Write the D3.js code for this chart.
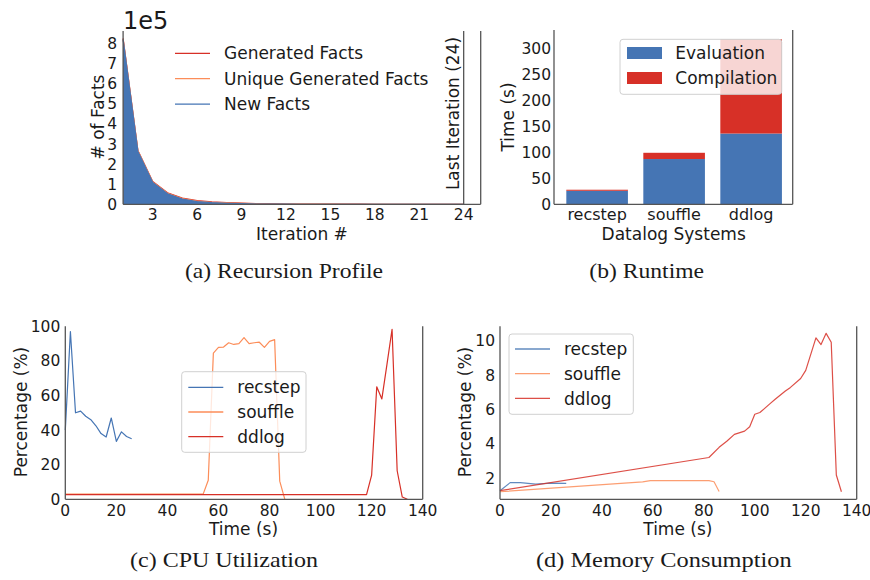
<!DOCTYPE html>
<html><head><meta charset="utf-8">
<script src="https://cdn.jsdelivr.net/npm/d3@7"></script>
<style>
body{margin:0;background:#fff;}
svg{display:block;}
text{font-family:"DejaVu Sans",sans-serif;fill:#1a1a1a;}
.cap{font-family:"Liberation Serif","DejaVu Serif",serif;}
</style></head>
<body><svg id="c" width="870" height="580"></svg>
<script>
// ---------- DATA ----------
// (a) Recursion profile, units of 1e5 facts, iterations 1..24
const iterations = d3.range(1, 25);
const generatedFacts = [8.25, 2.68, 1.13, 0.57, 0.31, 0.18, 0.12, 0.09, 0.06, 0.035, 0.022, 0.014, 0.01, 0.008, 0.006, 0.005, 0.004, 0.003, 0.003, 0.002, 0.002, 0.002, 0.001, 0.001];
const uniqueFacts    = [8.23, 2.66, 1.11, 0.55, 0.29, 0.16, 0.10, 0.07, 0.045, 0.025, 0.015, 0.01, 0.007, 0.005, 0.004, 0.003, 0.002, 0.002, 0.001, 0.001, 0.001, 0.001, 0.001, 0.001];
const newFacts       = [8.20, 2.63, 1.08, 0.52, 0.26, 0.13, 0.08, 0.05, 0.03, 0.015, 0.008, 0.005, 0.003, 0.002, 0.001, 0.001, 0, 0, 0, 0, 0, 0, 0, 0];
const lastIteration = 24;
const profileTicksX = [3, 6, 9, 12, 15, 18, 21, 24];
const profileTicksY = [0, 1, 2, 3, 4, 5, 6, 7, 8];

// (b) Runtime
const systems = ["recstep", "souffle", "ddlog"];
const evaluationTime = [26, 87, 136];
const compilationTime = [2, 12, 181];
const runtimeTicksY = [0, 50, 100, 150, 200, 250, 300];

// (c) CPU utilization (%) : [time s, value]
const cpuRecstep = [[0,40],[2,97],[4,50],[6,51],[8,48],[10,46],[12,42.5],[14,38],[16,36],[18,47],[20,33.5],[22,39],[24,36.3],[26,35]];
const cpuSouffle = [[0,3],[54,3],[56,11],[58,84.5],[60,87.8],[62,88],[64,90.5],[66,89.5],[68,90],[70,93.5],[72,90],[74,90.5],[76,90.8],[78,87.8],[80,91.3],[82,92.3],[84,10.5],[86,0]];
const cpuDdlog   = [[0,2.7],[118,2.7],[120,14],[122,65],[124,58],[126,78],[128,98.3],[130,16.5],[132,1.3],[134,0]];
const pctTicksX = [0, 20, 40, 60, 80, 100, 120, 140];
const cpuTicksY = [0, 20, 40, 60, 80, 100];

// (d) Memory consumption (%)
const memRecstep = [[0,1.28],[4,1.75],[8,1.75],[14,1.66],[20,1.72],[26,1.71]];
const memSouffle = [[0,1.22],[56,1.79],[59,1.86],[82,1.86],[84,1.8],[86,1.23]];
const memDdlog   = [[0,1.28],[82,3.21],[86,3.8],[89,4.15],[92,4.55],[96,4.74],[98,4.99],[100,5.72],[102,5.82],[106,6.34],[108,6.59],[112,7.07],[114,7.28],[118,7.8],[120,8.27],[124,10.16],[126,9.77],[128,10.42],[130,9.9],[132,2.19],[134,1.22]];
const memTicksY = [2, 4, 6, 8, 10];

const seriesNames = ["recstep", "souffle", "ddlog"];
const profileNames = ["Generated Facts", "Unique Generated Facts", "New Facts"];
const runtimeNames = ["Evaluation", "Compilation"];

// ---------- STYLE ----------
const BLUE = "#4575b4", ORANGE = "#fc8d59", RED = "#d73027";
const SPINE = "#555", TICK = 15.5, LAB = 17;

const svg = d3.select("#c");

function txt(g, x, y, s, size, anchor, extra) {
  const t = g.append("text").attr("x", x).attr("y", y).text(s)
    .attr("font-size", size).attr("text-anchor", anchor || "start");
  if (extra) extra(t);
  return t;
}
function vline(g, x, y1, y2) {
  g.append("line").attr("x1", x).attr("x2", x).attr("y1", y1).attr("y2", y2)
    .attr("stroke", SPINE).attr("stroke-width", 1.3);
}
function hline(g, y, x1, x2) {
  g.append("line").attr("x1", x1).attr("x2", x2).attr("y1", y).attr("y2", y)
    .attr("stroke", SPINE).attr("stroke-width", 1.3);
}
function yLabel(g, x, y, s) {
  g.append("text").attr("transform", `translate(${x},${y}) rotate(-90)`)
    .attr("text-anchor", "middle").attr("dy", "0.35em").attr("font-size", LAB).text(s);
}
function xTicks(g, scale, ticks, y, fmt) {
  ticks.forEach(t => txt(g, scale(t), y, fmt ? fmt(t) : t, TICK, "middle"));
}
function yTicks(g, scale, ticks, x) {
  ticks.forEach(t => txt(g, x, scale(t), t, TICK, "end", e => e.attr("dy", "0.36em")));
}
function legendBox(g, x1, y1, x2, y2) {
  g.append("rect").attr("x", x1).attr("y", y1).attr("width", x2 - x1).attr("height", y2 - y1)
    .attr("rx", 3).attr("fill", "#fff").attr("fill-opacity", 0.8)
    .attr("stroke", "#d0d0d0").attr("stroke-width", 1);
}

// ---------- (a) Recursion Profile ----------
{
  const g = svg.append("g");
  const x = d3.scaleLinear().domain([1, 25.15]).range([123.1, 480.7]);
  const y = d3.scaleLinear().domain([0, 8.62]).range([204.3, 31]);
  const series = [[generatedFacts, RED], [uniqueFacts, ORANGE], [newFacts, BLUE]];
  series.forEach(([vals, col]) => {
    const pts = iterations.map((it, i) => [it, vals[i]]);
    g.append("path").datum(pts)
      .attr("d", d3.area().x(d => x(d[0])).y0(y(0)).y1(d => y(d[1])))
      .attr("fill", col);
    g.append("path").datum(pts)
      .attr("d", d3.line().x(d => x(d[0])).y(d => y(d[1])))
      .attr("fill", "none").attr("stroke", col).attr("stroke-width", 1.2);
  });
  // last iteration marker
  vline(g, x(lastIteration), y.range()[1], y(0));
  g.append("text")
    .attr("transform", `translate(${x(lastIteration) - 4.5},113.5) rotate(-90)`)
    .attr("text-anchor", "middle").attr("font-size", LAB)
    .text(`Last Iteration (${lastIteration})`);
  // spines
  vline(g, x.range()[0], y.range()[1], y(0));
  vline(g, x.range()[1], y.range()[1], y(0));
  hline(g, y(0), x.range()[0], x.range()[1]);
  xTicks(g, x, profileTicksX, 220);
  yTicks(g, y, profileTicksY, 117);
  txt(g, 123, 28.5, "1e5", 24, "start");
  txt(g, 302, 239.5, "Iteration #", LAB, "middle");
  yLabel(g, 98, 117, "# of Facts");
  // legend (no frame)
  const cols = [RED, ORANGE, BLUE];
  profileNames.forEach((n, i) => {
    const yy = 53.3 + i * 25.4;
    g.append("line").attr("x1", 175).attr("x2", 210).attr("y1", yy).attr("y2", yy)
      .attr("stroke", cols[i]).attr("stroke-width", 1.3);
    txt(g, 224, yy, n, LAB, "start", e => e.attr("dy", "0.36em"));
  });
  txt(g, 284, 278.3, "(a) Recursion Profile", 21, "middle", e => e.attr("class", "cap")
    .attr("textLength", 198).attr("lengthAdjust", "spacingAndGlyphs"));
}

// ---------- (b) Runtime ----------
{
  const g = svg.append("g");
  const x = d3.scaleLinear().domain([-0.56, 2.54]).range([554, 792.7]);
  const y = d3.scaleLinear().domain([0, 335]).range([204.3, 30]);
  const bw = x(0.4) - x(-0.4);
  systems.forEach((s, i) => {
    g.append("rect").attr("x", x(i - 0.4)).attr("width", bw)
      .attr("y", y(evaluationTime[i])).attr("height", y(0) - y(evaluationTime[i])).attr("fill", BLUE);
    const top = evaluationTime[i] + compilationTime[i];
    g.append("rect").attr("x", x(i - 0.4)).attr("width", bw)
      .attr("y", y(top)).attr("height", y(evaluationTime[i]) - y(top)).attr("fill", RED);
  });
  vline(g, x.range()[0], y.range()[1], y(0));
  vline(g, x.range()[1], y.range()[1], y(0));
  hline(g, y(0), x.range()[0], x.range()[1]);
  systems.forEach((s, i) => txt(g, x(i), 220, s, TICK + 0.5, "middle"));
  yTicks(g, y, runtimeTicksY, 551);
  txt(g, 673.7, 239.5, "Datalog Systems", LAB, "middle");
  yLabel(g, 508, 117, "Time (s)");
  legendBox(g, 620, 39.3, 781.7, 94.3);
  const cols = [BLUE, RED];
  runtimeNames.forEach((n, i) => {
    const yy = 53 + i * 25;
    g.append("rect").attr("x", 627).attr("y", yy - 6).attr("width", 35).attr("height", 12).attr("fill", cols[i]);
    txt(g, 675.3, yy, n, LAB, "start", e => e.attr("dy", "0.36em"));
  });
  txt(g, 646.7, 278.3, "(b) Runtime", 21, "middle", e => e.attr("class", "cap")
    .attr("textLength", 114.7).attr("lengthAdjust", "spacingAndGlyphs"));
}

// ---------- line panels ----------
function linePanel(opts) {
  const g = svg.append("g");
  const x = d3.scaleLinear().domain([0, 140]).range(opts.xr);
  const y = d3.scaleLinear().domain(opts.yd).range([499.3, 326.3]);
  const line = d3.line().x(d => x(d[0])).y(d => y(d[1]));
  const cols = [BLUE, ORANGE, RED];
  opts.data.forEach((d, i) => {
    g.append("path").datum(d).attr("d", line).attr("fill", "none")
      .attr("stroke", cols[i]).attr("stroke-width", 1.2).attr("stroke-opacity", opts.op)
      .attr("stroke-linejoin", "round");
  });
  vline(g, x.range()[0], y.range()[1], y.range()[0]);
  vline(g, x.range()[1], y.range()[1], y.range()[0]);
  hline(g, y.range()[0], x.range()[0], x.range()[1]);
  xTicks(g, x, pctTicksX, 515.5);
  yTicks(g, y, opts.yt, x.range()[0] - 5);
  txt(g, (x.range()[0] + x.range()[1]) / 2 - 0.5, 535, "Time (s)", LAB, "middle");
  yLabel(g, opts.ylx, 412, "Percentage (%)");
  const L = opts.leg;
  legendBox(g, L.x1, L.y1, L.x2, L.y2);
  seriesNames.forEach((n, i) => {
    const yy = L.r0 + i * L.dr;
    g.append("line").attr("x1", L.lx).attr("x2", L.lx + 35).attr("y1", yy).attr("y2", yy)
      .attr("stroke", cols[i]).attr("stroke-width", 1.3).attr("stroke-opacity", opts.op);
    txt(g, L.tx, yy, n, LAB, "start", e => e.attr("dy", "0.36em"));
  });
  txt(g, opts.cx, 566.5, opts.cap, 21, "middle", e => e.attr("class", "cap")
    .attr("textLength", opts.cw).attr("lengthAdjust", "spacingAndGlyphs"));
}

linePanel({
  xr: [65.3, 422.7], yd: [0, 100], yt: cpuTicksY, op: 1,
  data: [cpuRecstep, cpuSouffle, cpuDdlog], ylx: 21,
  leg: {x1: 181.7, y1: 371.7, x2: 306, y2: 452.3, lx: 188.3, tx: 237.3, r0: 387.3, dr: 24.7},
  cap: "(c) CPU Utilization", cx: 224, cw: 188
});
linePanel({
  xr: [500, 856.7], yd: [0.78, 10.83], yt: memTicksY, op: 0.85,
  data: [memRecstep, memSouffle, memDdlog], ylx: 465,
  leg: {x1: 509, y1: 334, x2: 633.3, y2: 414.3, lx: 515, tx: 564, r0: 349, dr: 24.7},
  cap: "(d) Memory Consumption", cx: 663.8, cw: 255.7
});
</script></body></html>
